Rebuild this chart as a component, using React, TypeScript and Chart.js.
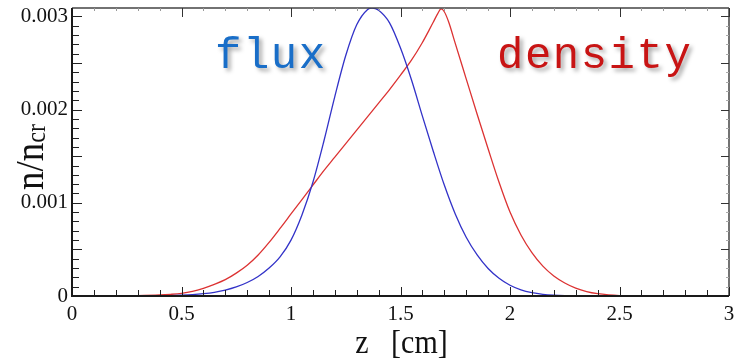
import React, { useEffect, useRef } from "react";
import { Chart, registerables } from "chart.js";

Chart.register(...registerables);

// Flux profile along z (cm), normalised n/n_cr
const fluxZ = [0, 0.2, 0.3, 0.4, 0.45, 0.5, 0.55, 0.6, 0.65, 0.7, 0.75, 0.8, 0.85, 0.9, 0.95, 1.0, 1.05, 1.1, 1.15, 1.2, 1.25, 1.3, 1.35, 1.37, 1.4, 1.45, 1.5, 1.55, 1.6, 1.65, 1.7, 1.75, 1.8, 1.85, 1.9, 1.95, 2.0, 2.05, 2.1, 2.15, 2.2, 2.25, 2.3, 2.4, 3.0];
const fluxN = [0, 0.0000002, 0.000001, 0.000003, 0.000005, 0.000009, 0.000015, 0.000025, 0.00004, 0.000063, 0.000097, 0.000145, 0.00021, 0.0003, 0.00042, 0.0006, 0.00087, 0.00122, 0.00166, 0.00214, 0.00258, 0.00291, 0.003075, 0.00309, 0.003065, 0.00293, 0.00266, 0.00232, 0.00193, 0.00155, 0.00119, 0.00088, 0.00063, 0.00044, 0.000295, 0.00019, 0.000115, 0.000066, 0.000036, 0.000018, 0.000008, 0.000003, 0.000001, 0, 0];

// Density profile along z (cm)
const densityZ = [0, 0.2, 0.3, 0.4, 0.45, 0.5, 0.55, 0.6, 0.65, 0.7, 0.75, 0.8, 0.85, 0.9, 0.95, 1.0, 1.05, 1.1, 1.15, 1.2, 1.25, 1.3, 1.35, 1.4, 1.45, 1.5, 1.55, 1.6, 1.63, 1.65, 1.67, 1.685, 1.7, 1.72, 1.75, 1.8, 1.85, 1.9, 1.95, 2.0, 2.05, 2.1, 2.15, 2.2, 2.25, 2.3, 2.35, 2.4, 2.45, 2.5, 2.6, 2.7, 3.0];
const densityN = [0, 0.000001, 0.000004, 0.000011, 0.000018, 0.000029, 0.00005, 0.000083, 0.000125, 0.000175, 0.000245, 0.00033, 0.00044, 0.000575, 0.000725, 0.00088, 0.001035, 0.00119, 0.001345, 0.00149, 0.001635, 0.00178, 0.001925, 0.00207, 0.002215, 0.00237, 0.00253, 0.00272, 0.00285, 0.00294, 0.00303, 0.00308, 0.00305, 0.00294, 0.00271, 0.00233, 0.00195, 0.00158, 0.00122, 0.0009, 0.000655, 0.000465, 0.00032, 0.000215, 0.00014, 0.000085, 0.000048, 0.000025, 0.000012, 0.000005, 0.000001, 0, 0];

const xTicks = [0, 0.5, 1, 1.5, 2, 2.5, 3];
const xTickLabels = ["0", "0.5", "1", "1.5", "2", "2.5", "3"];
const yTicks = [0, 0.001, 0.002, 0.003];
const yTickLabels = ["0", "0.001", "0.002", "0.003"];

const X_MIN = 0;
const X_MAX = 3;
const Y_MIN = 0;
const Y_MAX = 0.00309;

const serif = "'Liberation Serif', 'Times New Roman', serif";
const mono = "'Courier New', 'Liberation Mono', monospace";

// Boxed frame with inward tick marks, axis titles and curve labels.
const framePlugin = {
  id: "frame",
  afterDraw(chart: any) {
    const { ctx, chartArea } = chart;
    const { left, right, top, bottom } = chartArea;
    const xs = chart.scales.x;
    const ys = chart.scales.y;
    ctx.save();

    // top & right edges
    ctx.strokeStyle = "#444";
    ctx.lineWidth = 1.5;
    ctx.beginPath();
    ctx.moveTo(left, top);
    ctx.lineTo(right, top);
    ctx.moveTo(right, top);
    ctx.lineTo(right, bottom);
    ctx.stroke();

    // x ticks every 0.1
    for (let i = 0; i <= 30; i++) {
      const v = i / 10;
      const px = Math.round(xs.getPixelForValue(v)) + 0.5;
      const major = i % 5 === 0;
      ctx.strokeStyle = "#222";
      ctx.lineWidth = 1;
      ctx.beginPath();
      ctx.moveTo(px, bottom);
      ctx.lineTo(px, bottom - (major ? 9 : 6));
      ctx.stroke();
      ctx.strokeStyle = major ? "#333" : "#999";
      ctx.beginPath();
      ctx.moveTo(px, top);
      ctx.lineTo(px, top + (major ? 9 : 3));
      ctx.stroke();
    }
    // y ticks every 0.0001
    for (let i = 0; i <= 30; i++) {
      const v = i / 10000;
      const py = Math.round(ys.getPixelForValue(v)) + 0.5;
      const major = i % 5 === 0;
      ctx.strokeStyle = "#222";
      ctx.lineWidth = 1;
      ctx.beginPath();
      ctx.moveTo(left, py);
      ctx.lineTo(left + (major ? 10 : 7), py);
      ctx.stroke();
      ctx.strokeStyle = major ? "#333" : "#aaa";
      ctx.beginPath();
      ctx.moveTo(right, py);
      ctx.lineTo(right - (major ? 8 : 3), py);
      ctx.stroke();
    }

    // left & bottom edges (heavier)
    ctx.strokeStyle = "#1a1a1a";
    ctx.lineWidth = 2;
    ctx.beginPath();
    ctx.moveTo(left, top);
    ctx.lineTo(left, bottom);
    ctx.lineTo(right, bottom);
    ctx.stroke();

    // x title
    ctx.fillStyle = "#111";
    ctx.save();
    ctx.translate((left + right) / 2 + 1, 353);
    ctx.scale(1, 1.1);
    ctx.font = `30px ${serif}`;
    ctx.textAlign = "center";
    ctx.textBaseline = "alphabetic";
    ctx.fillText("z   [cm]", 0, 0);
    ctx.restore();

    // y title n/n_cr, rotated
    ctx.save();
    ctx.translate(43, 157);
    ctx.rotate(-Math.PI / 2);
    ctx.scale(1, 1.1);
    const bigFont = `37px ${serif}`;
    const subFont = `24px ${serif}`;
    ctx.font = bigFont;
    const w1 = ctx.measureText("n/n").width;
    ctx.font = subFont;
    const w2 = ctx.measureText("cr").width;
    const start = -(w1 + w2) / 2;
    ctx.textAlign = "left";
    ctx.textBaseline = "alphabetic";
    ctx.font = bigFont;
    ctx.fillText("n/n", start, 0);
    ctx.font = subFont;
    ctx.fillText("cr", start + w1, 2);
    ctx.restore();

    // curve labels with a soft drop shadow
    ctx.shadowColor = "rgba(0,0,0,0.35)";
    ctx.shadowBlur = 4;
    ctx.shadowOffsetX = 3;
    ctx.shadowOffsetY = 3;
    ctx.font = `44px ${mono}`;
    ctx.letterSpacing = "1.5px";
    ctx.textAlign = "left";
    ctx.fillStyle = "rgb(25,110,200)";
    ctx.fillText("flux", 215, 68);
    ctx.fillStyle = "rgb(200,20,20)";
    ctx.fillText("density", 497, 68);

    ctx.restore();
  },
};

export default function App() {
  const canvasRef = useRef<HTMLCanvasElement | null>(null);

  useEffect(() => {
    const canvas = canvasRef.current;
    if (!canvas) return;
    const chart = new Chart(canvas, {
      type: "line",
      data: {
        datasets: [
          {
            label: "flux",
            data: fluxZ.map((z, i) => ({ x: z, y: fluxN[i] })),
            borderColor: "rgb(50,50,200)",
            borderWidth: 1.3,
            pointRadius: 0,
            fill: false,
            cubicInterpolationMode: "monotone",
          },
          {
            label: "density",
            data: densityZ.map((z, i) => ({ x: z, y: densityN[i] })),
            borderColor: "rgb(220,50,50)",
            borderWidth: 1.3,
            pointRadius: 0,
            fill: false,
            cubicInterpolationMode: "monotone",
          },
        ],
      },
      options: {
        animation: false,
        responsive: false,
        devicePixelRatio: 1,
        layout: { padding: { top: 8, right: 15, left: 0, bottom: 0 } },
        plugins: {
          legend: { display: false },
          tooltip: { enabled: false },
        },
        scales: {
          x: {
            type: "linear",
            min: X_MIN,
            max: X_MAX,
            grid: { display: false, drawTicks: false },
            border: { display: false },
            afterBuildTicks: (scale: any) => {
              scale.ticks = xTicks.map((v) => ({ value: v }));
            },
            afterFit: (scale: any) => {
              scale.height = 65;
              scale.paddingLeft = 0;
              scale.paddingRight = 0;
            },
            ticks: {
              autoSkip: false,
              maxRotation: 0,
              padding: 6,
              color: "#111",
              font: { family: serif, size: 21 },
              callback: (_v: any, i: number) => xTickLabels[i],
            },
          },
          y: {
            type: "linear",
            min: Y_MIN,
            max: Y_MAX,
            grid: { display: false, drawTicks: false },
            border: { display: false },
            afterBuildTicks: (scale: any) => {
              scale.ticks = yTicks.map((v) => ({ value: v }));
            },
            afterFit: (scale: any) => {
              scale.width = 72;
              scale.paddingTop = 0;
              scale.paddingBottom = 0;
            },
            ticks: {
              autoSkip: false,
              padding: 4,
              color: "#111",
              font: { family: serif, size: 21 },
              callback: (_v: any, i: number) => yTickLabels[i],
            },
          },
        },
      },
      plugins: [framePlugin],
    });
    return () => chart.destroy();
  }, []);

  return (
    <div style={{ position: "absolute", left: 0, top: 0, width: 744, height: 361, background: "#fff" }}>
      <canvas ref={canvasRef} width={744} height={361} style={{ display: "block", width: 744, height: 361 }} />
    </div>
  );
}
